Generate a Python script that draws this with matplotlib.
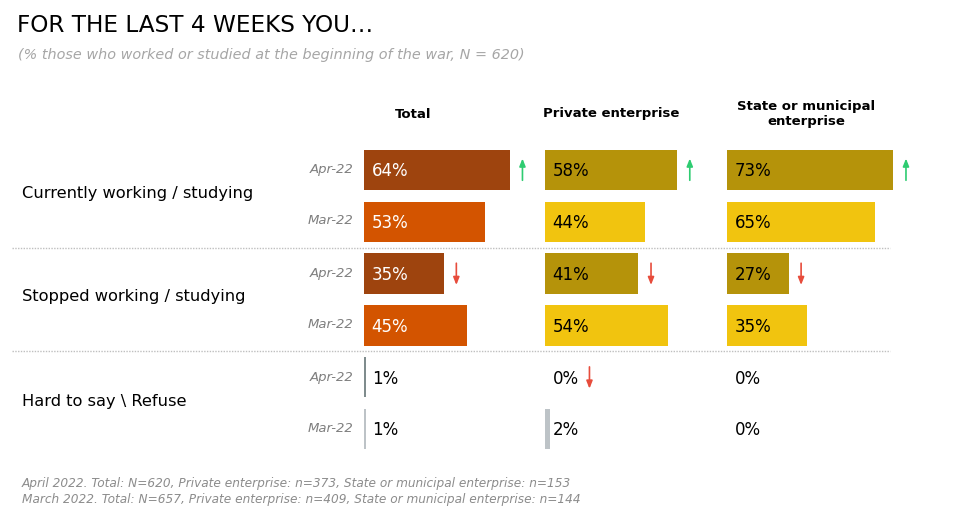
import matplotlib
matplotlib.use("Agg")
import matplotlib.pyplot as plt
from matplotlib.lines import Line2D

plt.rcParams['font.family'] = ['DejaVu Sans']

# ---------------- data ----------------
categories = ["Currently working / studying", "Stopped working / studying", "Hard to say \\ Refuse"]
periods = ["Apr-22", "Mar-22"]
columns = ["Total", "Private enterprise", "State or municipal\nenterprise"]

total_apr = [64, 35, 1]
total_mar = [53, 45, 1]
private_apr = [58, 41, 0]
private_mar = [44, 54, 2]
state_apr = [73, 27, 0]
state_mar = [65, 35, 0]

total_change = ["up", "down", None]
private_change = ["up", "down", "down"]
state_change = ["up", "down", None]

title = "FOR THE LAST 4 WEEKS YOU\u2026"
subtitle = "(% those who worked or studied at the beginning of the war, N = 620)"
footnotes = ["April 2022. Total: N=620, Private enterprise: n=373, State or municipal enterprise: n=153",
             "March 2022. Total: N=657, Private enterprise: n=409, State or municipal enterprise: n=144"]

# ---------------- style ----------------
W, H = 962, 519
fig = plt.figure(figsize=(W / 100, H / 100), dpi=100)

def fx(px):
    return px / W

def fy(py):
    return 1 - py / H

panel_left = [364, 545, 727]
panel_width = 185
px_per_pct = 2.28
top_px, bottom_px = 144, 455

apr_colors = [["#9E440E"] * 2 + ["#7F8C8D"], ["#B5930A"] * 2 + ["#7F8C8D"], ["#B5930A"] * 2 + ["#7F8C8D"]]
mar_colors = [["#D35400"] * 2 + ["#BDC3C7"], ["#F1C40F"] * 2 + ["#BDC3C7"], ["#F1C40F"] * 2 + ["#BDC3C7"]]
label_colors = [["white", "white", "black"], ["black"] * 3, ["black"] * 3]

data = [(total_apr, total_mar, total_change),
        (private_apr, private_mar, private_change),
        (state_apr, state_mar, state_change)]

for p, (apr, mar, chg) in enumerate(data):
    ax = fig.add_axes([fx(panel_left[p]), fy(bottom_px), fx(panel_width), (bottom_px - top_px) / H])
    ax.set_xlim(0, panel_width / px_per_pct)
    ax.set_ylim(5.5, -0.5)
    ax.axis("off")
    for i in range(len(categories)):
        ya, ym = 2 * i, 2 * i + 1
        ax.barh(ya, apr[i], height=0.78, color=apr_colors[p][i], linewidth=0)
        ax.barh(ym, mar[i], height=0.78, color=mar_colors[p][i], linewidth=0)
        for yy, v in ((ya, apr[i]), (ym, mar[i])):
            ax.annotate(f"{v}%", xy=(0, yy), xytext=(5.5, -1), textcoords="offset points",
                        ha="left", va="center", fontsize=12, color=label_colors[p][i])
        if chg[i] is not None:
            xa = max(apr[i], 14) + 5.5
            if chg[i] == "up":
                ax.annotate("", xy=(xa, ya - 0.22), xytext=(xa, ya + 0.2),
                            arrowprops=dict(arrowstyle="-|>,head_length=0.45,head_width=0.18",
                                            color="#2ECC71", lw=1.2, shrinkA=0, shrinkB=0))
            else:
                ax.annotate("", xy=(xa, ya + 0.22), xytext=(xa, ya - 0.2),
                            arrowprops=dict(arrowstyle="-|>,head_length=0.45,head_width=0.18",
                                            color="#E74C3C", lw=1.2, shrinkA=0, shrinkB=0))

# column headers
header_x = [413, 611, 806]
header_y = [114, 114, 114]
for cx, cy, name in zip(header_x, header_y, columns):
    fig.text(fx(cx), fy(cy), name, ha="center", va="center", fontsize=9.5,
             fontweight="bold", color="black", linespacing=1.25)

# row labels and date labels
row_center_px = [170, 221, 273, 325, 378, 429]
for i, cat in enumerate(categories):
    mid = (row_center_px[2 * i] + row_center_px[2 * i + 1]) / 2
    fig.text(fx(22), fy(mid - 2), cat, ha="left", va="center", fontsize=11.7, color="black")
    for j, per in enumerate(periods):
        fig.text(fx(353), fy(row_center_px[2 * i + j]), per, ha="right", va="center",
                 fontsize=9.5, style="italic", color="#7F7F7F")

# separators
for sy in (248, 351):
    fig.add_artist(Line2D([fx(12), fx(890)], [fy(sy), fy(sy)], color="#BFBFBF",
                          lw=1, linestyle=(0, (1, 1))))

# title / subtitle / footnotes
fig.text(fx(17), fy(25), title, ha="left", va="center", fontsize=16.7, color="black")
fig.text(fx(18), fy(55), subtitle, ha="left", va="center", fontsize=10.35,
         style="italic", color="#A6A6A6")
for k, line in enumerate(footnotes):
    fig.text(fx(22), fy(484 + 16 * k), line, ha="left", va="center", fontsize=8.75,
             style="italic", color="#8C8C8C")

fig.savefig("out.png", dpi=100, facecolor="white")
